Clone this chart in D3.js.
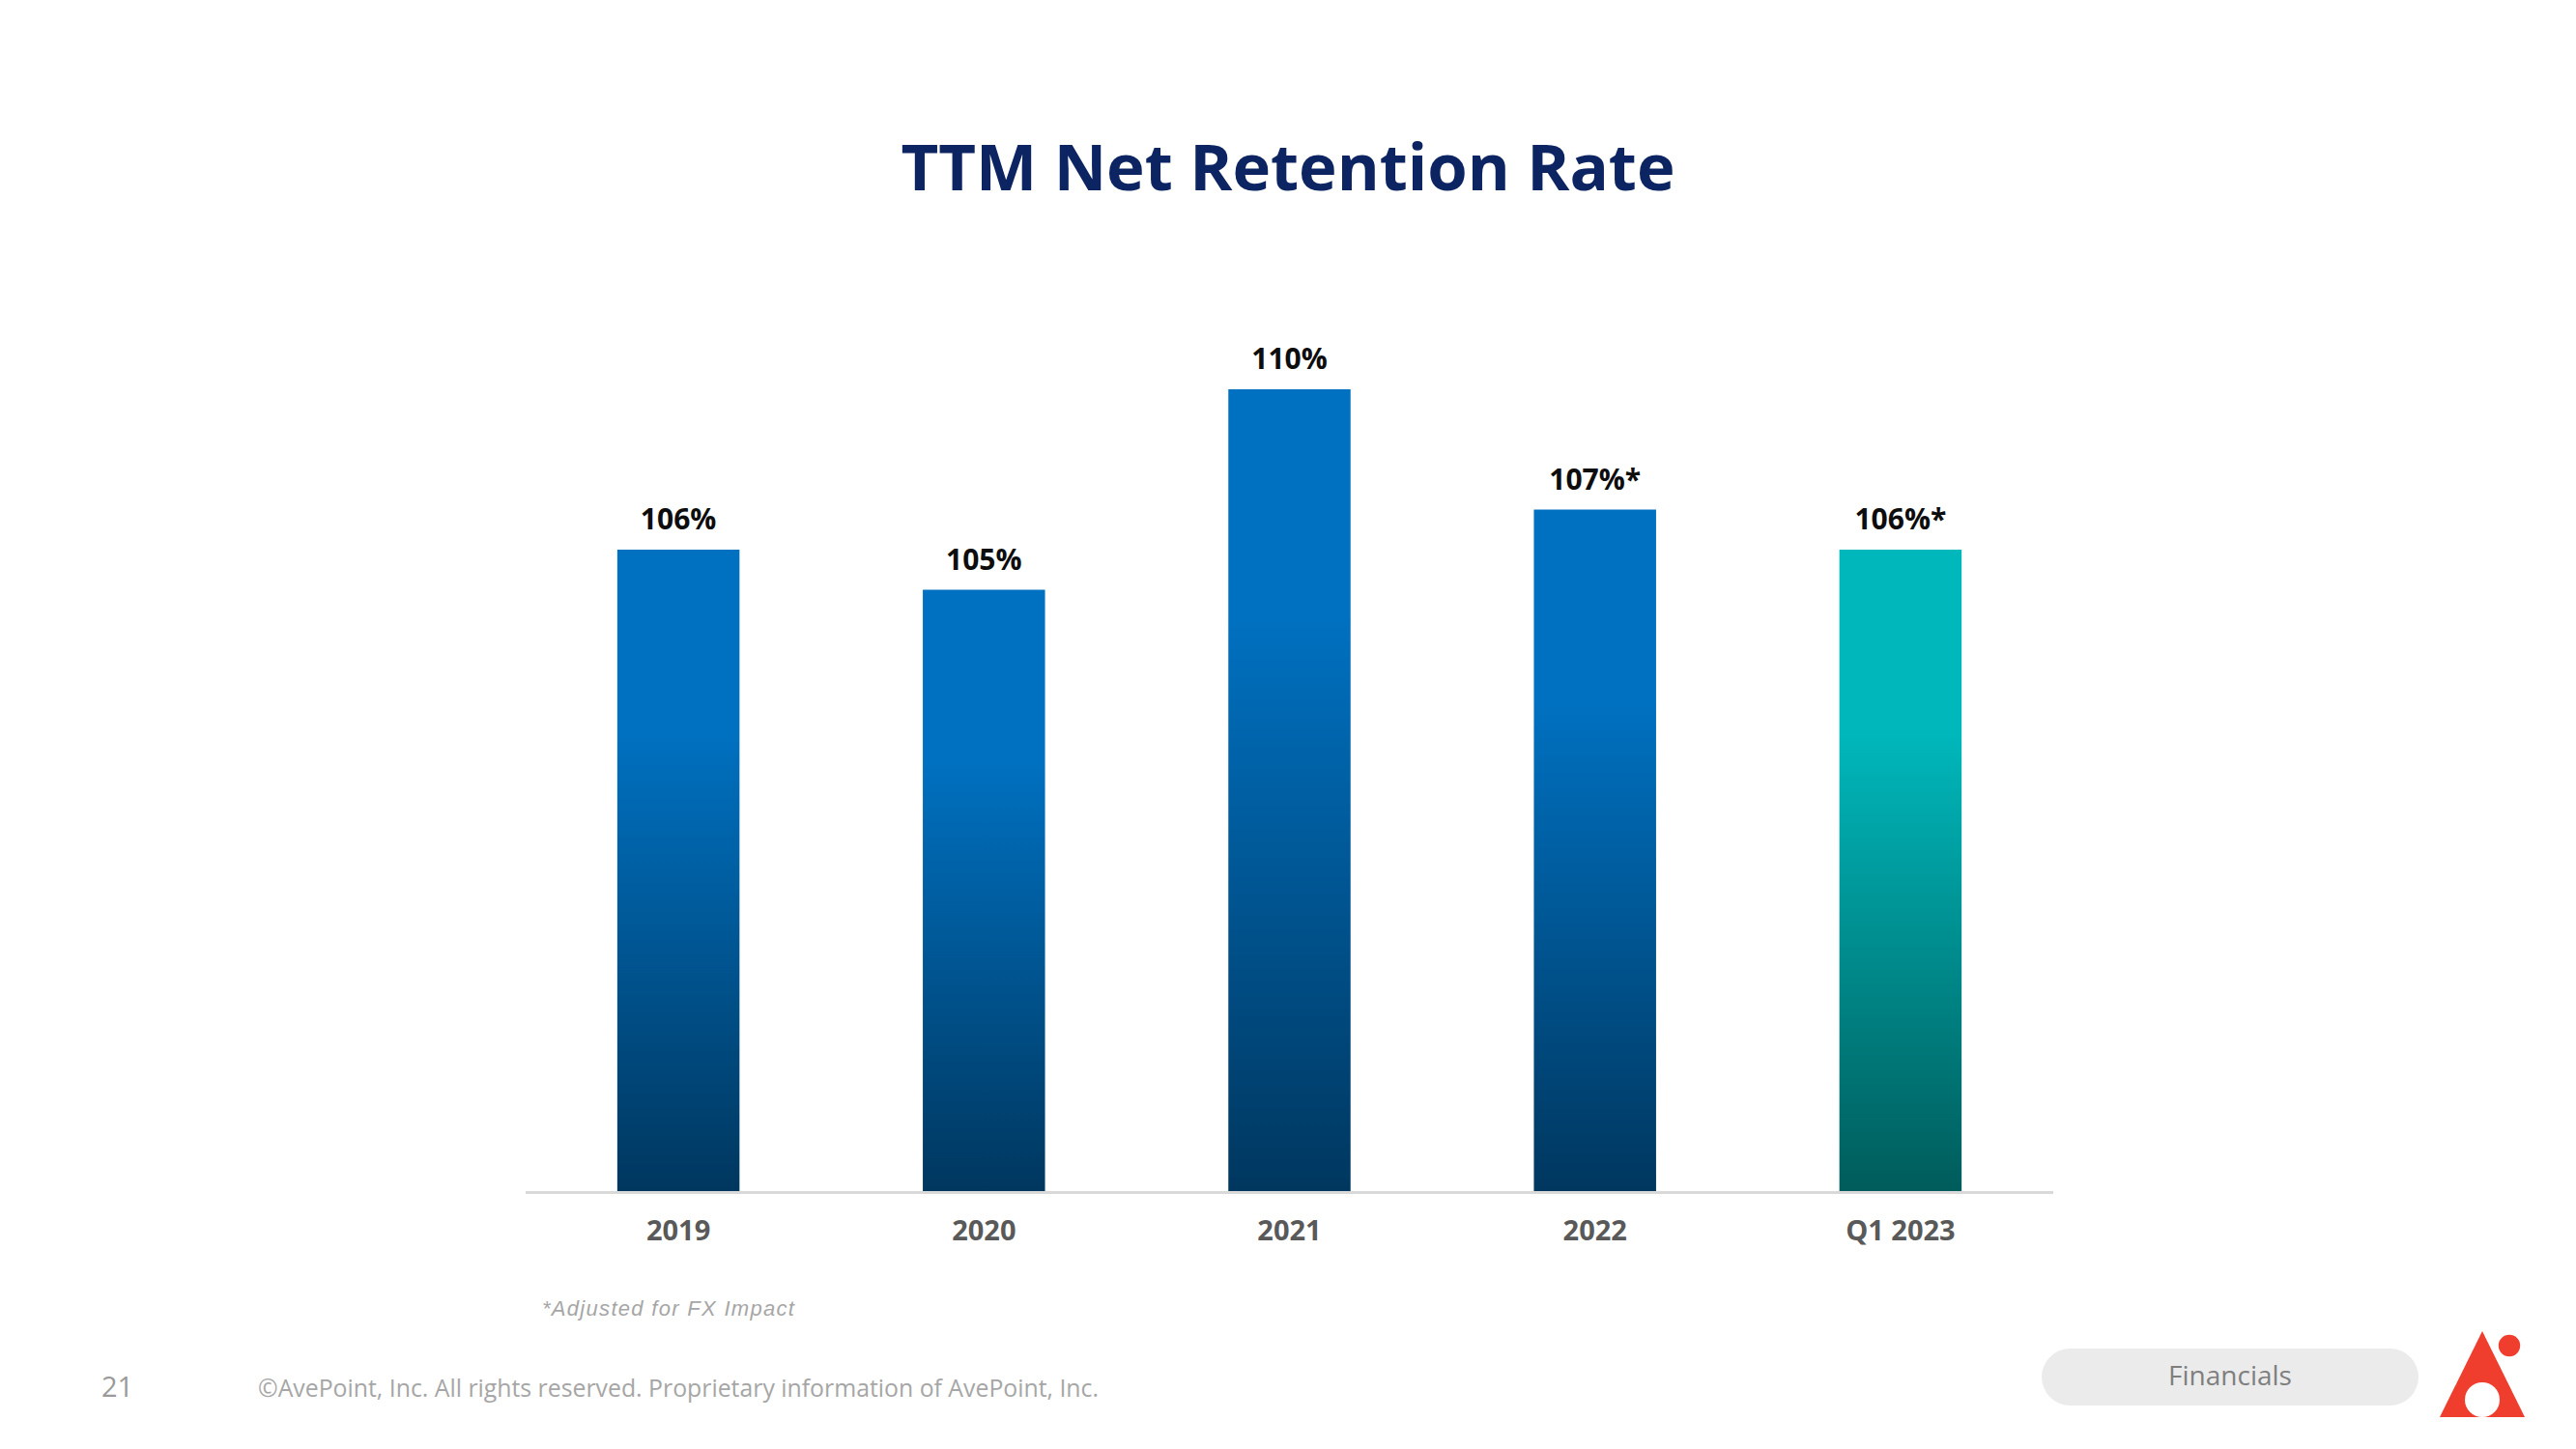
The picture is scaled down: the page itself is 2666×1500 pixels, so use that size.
<!DOCTYPE html>
<html>
<head>
<meta charset="utf-8">
<script src="https://cdn.jsdelivr.net/npm/d3@7"></script>
<style>
  html, body { margin: 0; padding: 0; background: #ffffff; }
  svg { display: block; }
</style>
</head>
<body>
<script>
// ---- data ----
const categories = ["2019", "2020", "2021", "2022", "Q1 2023"];
const values = [106, 105, 110, 107, 106];
const valueLabels = ["106%", "105%", "110%", "107%*", "106%*"];
const seriesKind = ["blue", "blue", "blue", "blue", "teal"];
const titleText = "TTM Net Retention Rate";
const footnoteText = "*Adjusted for FX Impact";
const pageNumber = "21";
const copyrightText = "\u00A9AvePoint, Inc. All rights reserved. Proprietary information of AvePoint, Inc.";
const sectionText = "Financials";

const W = 2666, H = 1500;
const svg = d3.select("body").append("svg").attr("width", W).attr("height", H);
svg.append("rect").attr("width", W).attr("height", H).attr("fill", "#ffffff");

const defs = svg.append("defs");
function grad(id, top, bottom) {
  const g = defs.append("linearGradient").attr("id", id)
    .attr("x1", 0).attr("y1", 0).attr("x2", 0).attr("y2", 1);
  g.append("stop").attr("offset", "0").attr("stop-color", top);
  g.append("stop").attr("offset", "0.28").attr("stop-color", top);
  g.append("stop").attr("offset", "1").attr("stop-color", bottom);
}
grad("g-blue", "#0071c1", "#00375f");
grad("g-teal", "#00b8bc", "#005c5b");

// ---- title ----
svg.append("text")
  .attr("x", 1333).attr("y", 197)
  .attr("text-anchor", "middle")
  .attr("font-family", "'Open Sans', sans-serif")
  .attr("font-weight", 700)
  .attr("font-size", 67)
  .attr("fill", "#0c2461")
  .text(titleText);

// ---- scales ----
const x = d3.scaleBand().domain(categories).range([544, 2125]).paddingInner(0.6).paddingOuter(0.3);
const y = d3.scaleLinear().domain([90, 110]).range([1233, 403]);

const data = categories.map((c, i) => ({ c, v: values[i], label: valueLabels[i], kind: seriesKind[i] }));

// bars
svg.append("g").selectAll("rect").data(data).join("rect")
  .attr("x", d => x(d.c))
  .attr("y", d => y(d.v))
  .attr("width", x.bandwidth())
  .attr("height", d => y(90) - y(d.v))
  .attr("fill", d => d.kind === "teal" ? "url(#g-teal)" : "url(#g-blue)");

// value labels
svg.append("g").selectAll("text").data(data).join("text")
  .attr("x", d => x(d.c) + x.bandwidth() / 2)
  .attr("y", d => y(d.v) - 21)
  .attr("text-anchor", "middle")
  .attr("font-family", "'Open Sans', sans-serif")
  .attr("font-weight", 700)
  .attr("font-size", 30)
  .attr("fill", "#0d0d0d")
  .text(d => d.label);

// x axis
const xAxis = svg.append("g").attr("transform", `translate(0,${y(90)})`)
  .call(d3.axisBottom(x).tickSize(0).tickPadding(0));
xAxis.select(".domain").attr("stroke", "#d9d9d9").attr("stroke-width", 3)
  .attr("d", "M544,1.5H2125");
xAxis.selectAll(".tick text")
  .attr("y", 51)
  .attr("dy", 0)
  .attr("font-family", "'Open Sans', sans-serif")
  .attr("font-weight", 700)
  .attr("font-size", 29)
  .attr("fill", "#595959");

// footnote
svg.append("text")
  .attr("x", 561).attr("y", 1362)
  .attr("font-family", "'Liberation Sans', Arial, sans-serif")
  .attr("font-style", "italic")
  .attr("font-size", 22)
  .attr("letter-spacing", 1.3)
  .attr("fill", "#a6a6a6")
  .text(footnoteText);

// footer
svg.append("text")
  .attr("x", 105).attr("y", 1446)
  .attr("font-family", "'Open Sans', sans-serif")
  .attr("font-size", 29)
  .attr("fill", "#9a9a9a")
  .text(pageNumber);

svg.append("text")
  .attr("x", 267).attr("y", 1446)
  .attr("font-family", "'Open Sans', sans-serif")
  .attr("font-size", 25)
  .attr("fill", "#a6a6a6")
  .attr("textLength", 870)
  .attr("lengthAdjust", "spacingAndGlyphs")
  .text(copyrightText);

// section pill
svg.append("rect")
  .attr("x", 2113).attr("y", 1396).attr("width", 390).attr("height", 59)
  .attr("rx", 29.5).attr("fill", "#ebebeb");
svg.append("text")
  .attr("x", 2308).attr("y", 1434)
  .attr("text-anchor", "middle")
  .attr("font-family", "'Open Sans', sans-serif")
  .attr("font-size", 28)
  .attr("fill", "#7f7f7f")
  .text(sectionText);

// logo
const logo = svg.append("g");
logo.append("path")
  .attr("d", "M2569,1378 L2613,1467 L2525,1467 Z")
  .attr("fill", "#ef3e2d");
logo.append("circle").attr("cx", 2569).attr("cy", 1449).attr("r", 18).attr("fill", "#ffffff");
logo.append("rect").attr("x", 2540).attr("y", 1467).attr("width", 80).attr("height", 10).attr("fill", "#ffffff");
logo.append("circle").attr("cx", 2597).attr("cy", 1393).attr("r", 12.7)
  .attr("fill", "#ef3e2d").attr("stroke", "#ffffff").attr("stroke-width", 3);
</script>
</body>
</html>
